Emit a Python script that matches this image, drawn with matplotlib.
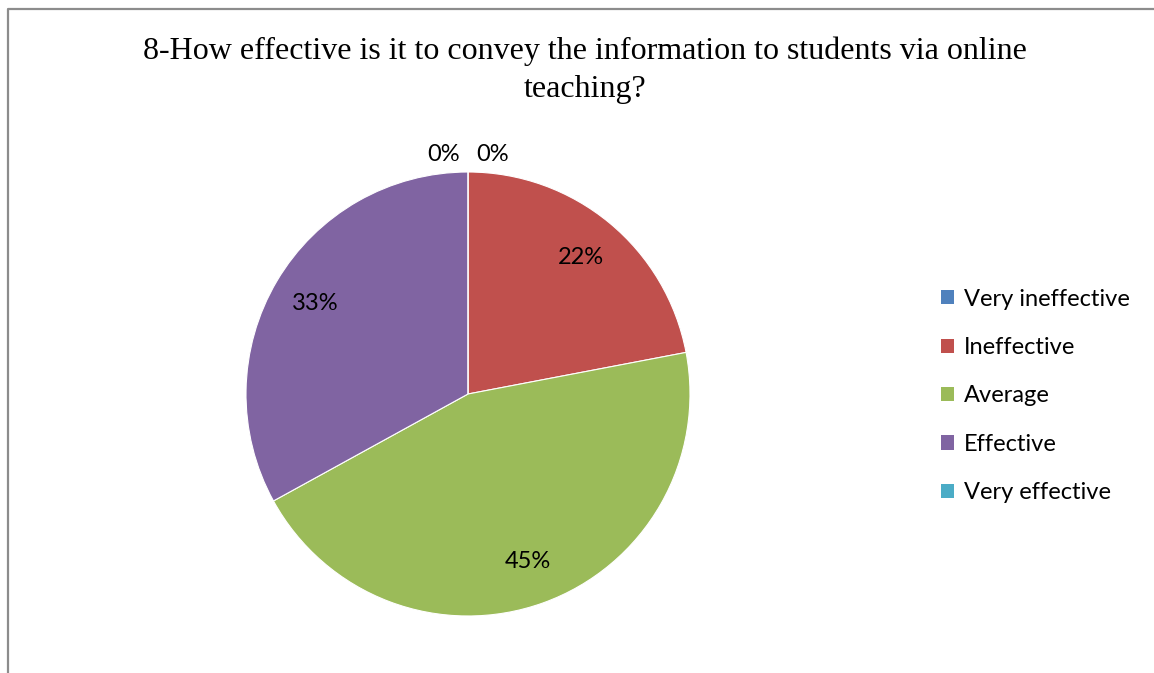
import matplotlib.pyplot as plt
from matplotlib.lines import Line2D
from matplotlib.patches import Patch

categories = ["Very ineffective", "Ineffective", "Average", "Effective", "Very effective"]
values = [0, 22, 45, 33, 0]
colors = ["#4F81BD", "#C0504D", "#9BBB59", "#8064A2", "#4BACC6"]
title = "8-How effective is it to convey the information to students via online\nteaching?"

W, H = 1154, 673
fig = plt.figure(figsize=(W / 100, H / 100), dpi=100)
fig.patch.set_facecolor("white")

# outer frame (left and top edges only)
fig.add_artist(Line2D([8 / W, 8 / W, 1.0], [0.0, 1 - 9 / H, 1 - 9 / H],
                      transform=fig.transFigure, color="#8c8c8c", lw=1.6))

fig.text(585 / W, 1 - 37 / H, title, ha="center", va="top",
         family="Liberation Serif", fontsize=23, linespacing=1.38)

# pie centre (468, 394), radius 222 px
cx, cy, r = 468, 394, 222
ax = fig.add_axes([(cx - r) / W, (H - cy - r) / H, 2 * r / W, 2 * r / H])

def pct(p):
    return "%d%%" % round(p) if p > 0.5 else ""

wedges, texts, autotexts = ax.pie(values, colors=colors, startangle=90, counterclock=False,
                                  autopct=pct, pctdistance=0.8,
                                  wedgeprops=dict(edgecolor="white", linewidth=0.8),
                                  textprops=dict(family="Lato", fontsize=17, color="black"))
ax.set_xlim(-1, 1)
ax.set_ylim(-1, 1)

# zero-valued slices get their labels just above the top of the pie
ax.text(-0.035, 1.03, pct(values[-1]) or "0%", ha="right", va="bottom",
        family="Lato", fontsize=17, clip_on=False)
ax.text(0.035, 1.03, pct(values[0]) or "0%", ha="left", va="bottom",
        family="Lato", fontsize=17, clip_on=False)

handles = [Patch(facecolor=c, edgecolor="none") for c in colors]
fig.legend(handles, categories, loc="center left", bbox_to_anchor=(941 / W, 1 - 396 / H),
           frameon=False, prop=dict(family="Lato", size=17), borderpad=0, borderaxespad=0,
           handlelength=0.55, handleheight=0.55, handletextpad=0.42, labelspacing=1.16)

fig.savefig("out.png", dpi=100)
